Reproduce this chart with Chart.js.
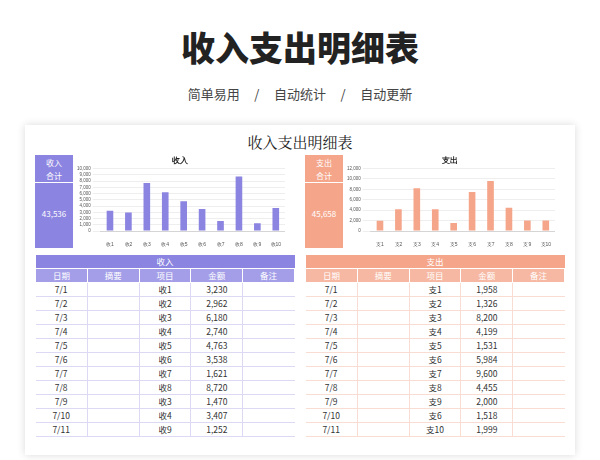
<!DOCTYPE html>
<html><head><meta charset="utf-8">
<script src="https://cdn.jsdelivr.net/npm/chart.js@4"></script>
<style>
body{margin:0;width:600px;height:460px;background:#fff;font-family:"Noto Sans CJK SC",sans-serif;overflow:hidden;position:relative}
#t{position:absolute;top:22px;width:600px;text-align:center;font-size:34px;font-weight:900;color:#222}
#s{position:absolute;top:84px;width:600px;text-align:center;font-size:13px;color:#444}
#card{position:absolute;left:25px;top:125px;width:550px;height:330px;background:#fff;box-shadow:0 0 8px rgba(0,0,0,.15)}
#ct{position:absolute;top:6px;width:550px;text-align:center;font-size:15px;color:#222;font-family:"Noto Serif CJK SC",serif}
.box{position:absolute;top:30px;width:38px;height:93px;color:#fff;font-size:8px;text-align:center}
.box div:first-child{height:28px;border-bottom:1px solid #fff;line-height:13px;padding-top:1px;box-sizing:border-box}
.box div:last-child{line-height:62px}
.cv{position:absolute;top:28px;width:210px;height:98px}
table{position:absolute;top:130px;width:260px;border-collapse:collapse;font-size:8.5px;color:#333;table-layout:fixed}
td,th{height:13px;padding:0;text-align:center;font-weight:normal;line-height:13px}
</style></head><body>
<div id="t">收入支出明细表</div>
<div id="s">简单易用 &nbsp; &nbsp; / &nbsp; &nbsp; 自动统计 &nbsp; &nbsp; / &nbsp; &nbsp; 自动更新</div>
<div id="card">
<div id="ct">收入支出明细表</div>
<div class="box" style="left:10px;background:#8b84e0"><div>收入<br>合计</div><div>43,536</div></div>
<div class="cv" style="left:50px"><canvas id="c1"></canvas></div>
<div class="box" style="left:280px;background:#f4a58a"><div>支出<br>合计</div><div>45,658</div></div>
<div class="cv" style="left:320px"><canvas id="c2"></canvas></div>
<table id="tb1" style="left:10px"></table>
<table id="tb2" style="left:280px"></table>
</div>
<script>
const incomeCats = ['收1','收2','收3','收4','收5','收6','收7','收8','收9','收10'];
const incomeVals = [3230, 2962, 7700, 6200, 4763, 3538, 1621, 8720, 1252, 3700];
const expenseCats = ['支1','支2','支3','支4','支5','支6','支7','支8','支9','支10'];
const expenseVals = [1958, 4200, 8200, 4199, 1531, 7500, 9600, 4455, 2000, 2000];

const dates = ['7/1','7/2','7/3','7/4','7/5','7/6','7/7','7/8','7/9','7/10','7/11'];
const incomeItems = ['收1','收2','收3','收4','收5','收6','收7','收8','收3','收4','收9'];
const incomeAmounts = [3230, 2962, 6180, 2740, 4763, 3538, 1621, 8720, 1470, 3407, 1252];
const expenseItems = ['支1','支2','支3','支4','支5','支6','支7','支8','支9','支6','支10'];
const expenseAmounts = [1958, 1326, 8200, 4199, 1531, 5984, 9600, 4455, 2000, 1518, 1999];

function makeChart(id, title, cats, vals, color, max, step) {
  new Chart(document.getElementById(id), {
    type: 'bar',
    data: { labels: cats, datasets: [{ data: vals, backgroundColor: color, barPercentage: 0.45 }] },
    options: {
      responsive: true, maintainAspectRatio: false, animation: false,
      plugins: { legend: { display: false },
        title: { display: true, text: title, color: '#222', font: { size: 8, weight: 'bold' }, padding: 3 } },
      scales: {
        x: { grid: { display: false }, ticks: { font: { size: 5 }, color: '#555', maxRotation: 0, autoSkip: false } },
        y: { min: 0, max: max, ticks: { stepSize: step, font: { size: 4.5 }, color: '#555', autoSkip: false, padding: 2 },
             grid: { color: '#eee' }, border: { display: false } }
      }
    }
  });
}
makeChart('c1', '收入', incomeCats, incomeVals, '#8b84e0', 10000, 1000);
makeChart('c2', '支出', expenseCats, expenseVals, '#f4a58a', 12000, 2000);

function makeTable(id, name, items, amounts, color, light, line) {
  const w = [38, 57, 55, 55, 55];
  let h = `<tr><th colspan="5" style="background:${color};color:#fff">${name}</th></tr>`;
  h += `<tr style="background:${light};color:#fff">` + ['日期','摘要','项目','金额','备注'].map((s, i) => `<th style="width:${w[i]}px;border:1px solid #fff">${s}</th>`).join('') + '</tr>';
  dates.forEach((d, i) => {
    h += `<tr style="border-bottom:1px solid ${line}"><td>${d}</td><td style="border-left:1px solid ${line}"></td><td style="border-left:1px solid ${line}">${items[i]}</td><td style="border-left:1px solid ${line}">${amounts[i].toLocaleString()}</td><td style="border-left:1px solid ${line}"></td></tr>`;
  });
  document.getElementById(id).innerHTML = h;
}
makeTable('tb1', '收入', incomeItems, incomeAmounts, '#8b84e0', '#a49ee8', '#ddd9f5');
makeTable('tb2', '支出', expenseItems, expenseAmounts, '#f4a58a', '#f6b8a2', '#f9ddd2');
</script>
</body></html>
